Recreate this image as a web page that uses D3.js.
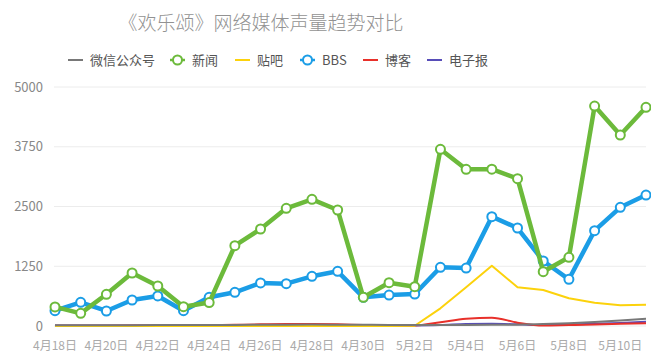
<!DOCTYPE html>
<html>
<head>
<meta charset="utf-8">
<script src="https://cdn.jsdelivr.net/npm/d3@7/dist/d3.min.js"></script>
<style>
  body { margin: 0; background: #fff; }
  text { font-family: "Noto Sans CJK SC", "Noto Sans", sans-serif; }
</style>
</head>
<body>
<div id="chart"></div>
<script>
const days = ["4月18日","4月19日","4月20日","4月21日","4月22日","4月23日","4月24日","4月25日",
  "4月26日","4月27日","4月28日","4月29日","4月30日","5月1日","5月2日","5月3日",
  "5月4日","5月5日","5月6日","5月7日","5月8日","5月9日","5月10日","5月11日"];
const yTicks = [0, 1250, 2500, 3750, 5000];

const weixin = [15,15,18,18,20,20,22,22,25,28,30,28,25,22,20,20,22,25,28,40,60,85,115,150];
const news = [400,265,663,1109,837,404,490,1680,2029,2462,2650,2427,600,906,822,3697,3278,3280,3083,1136,1437,4602,3996,4575];
const tieba = [0,0,0,0,0,0,0,0,0,0,0,0,0,0,5,370,810,1262,810,753,580,487,433,446];
const bbs = [320,495,314,544,628,320,600,705,900,885,1040,1144,600,648,669,1228,1213,2287,2050,1360,977,1994,2483,2740];
const blog = [5,5,5,8,8,10,15,25,35,40,40,35,20,10,10,80,150,175,70,10,20,30,45,60];
const dianzi = [10,10,10,10,10,10,10,12,12,12,12,12,12,12,12,20,40,45,35,20,30,45,65,90];

const series = [
  { name: "微信公众号", data: weixin, color: "#787878", width: 2, dots: false, smooth: true },
  { name: "新闻", data: news, color: "#6cba3b", width: 4.5, dots: true, smooth: false },
  { name: "贴吧", data: tieba, color: "#fcd20c", width: 2, dots: false, smooth: false },
  { name: "BBS", data: bbs, color: "#1b9de6", width: 4.5, dots: true, smooth: false },
  { name: "博客", data: blog, color: "#e8302a", width: 2, dots: false, smooth: true },
  { name: "电子报", data: dianzi, color: "#574db8", width: 2, dots: false, smooth: true }
];
const drawOrder = ["电子报", "博客", "贴吧", "BBS", "新闻", "微信公众号"];

const width = 651, height = 360;
const svg = d3.select("#chart").append("svg")
  .attr("width", width)
  .attr("height", height);

const x = d3.scalePoint().domain(days).range([55, 646]);
const y = d3.scaleLinear().domain([0, 5000]).range([326, 87]);

// title
svg.append("text")
  .attr("x", 261).attr("y", 30)
  .attr("text-anchor", "middle")
  .attr("fill", "#929292")
  .attr("font-weight", 300)
  .style("font-size", "19px")
  .text("《欢乐颂》网络媒体声量趋势对比");

// legend
const legendX = [68, 170, 235, 300, 363, 427];
const legend = svg.append("g").selectAll("g")
  .data(series)
  .enter().append("g")
  .attr("transform", (d, i) => "translate(" + legendX[i] + ",60)");
legend.append("line")
  .attr("x1", 0).attr("x2", 15)
  .attr("stroke", d => d.color)
  .attr("stroke-width", d => d.dots ? 2.5 : 2);
legend.filter(d => d.dots).append("circle")
  .attr("cx", 7.5).attr("r", 4.5)
  .attr("fill", "#fff")
  .attr("stroke", d => d.color)
  .attr("stroke-width", 2);
legend.append("text")
  .attr("x", 22)
  .attr("y", 4.5)
  .attr("fill", "#555")
  .style("font-size", "13px")
  .text(d => d.name);

// grid + y labels
svg.append("g").selectAll("line")
  .data(yTicks)
  .enter().append("line")
  .attr("x1", 54).attr("x2", 646)
  .attr("y1", d => y(d)).attr("y2", d => y(d))
  .attr("stroke", "#ececec");
svg.append("g").selectAll("text")
  .data(yTicks)
  .enter().append("text")
  .attr("x", 43).attr("y", d => y(d) + 4.5)
  .attr("text-anchor", "end")
  .attr("fill", "#888")
  .style("font-size", "13px")
  .text(d => d);

// x labels
svg.append("g").selectAll("text")
  .data(days.filter((d, i) => i % 2 === 0))
  .enter().append("text")
  .attr("x", d => x(d)).attr("y", 350)
  .attr("text-anchor", "middle")
  .attr("fill", "#aaa")
  .style("font-size", "12px")
  .text(d => d);

// lines
drawOrder.forEach(function (name) {
  const s = series.find(v => v.name === name);
  const line = d3.line()
    .x((d, i) => x(days[i]))
    .y(d => y(d))
    .curve(s.smooth ? d3.curveMonotoneX : d3.curveLinear);
  svg.append("path")
    .datum(s.data)
    .attr("fill", "none")
    .attr("stroke", s.color)
    .attr("stroke-width", s.width)
    .attr("stroke-linejoin", "round")
    .attr("d", line);
  if (s.dots) {
    svg.append("g").selectAll("circle")
      .data(s.data)
      .enter().append("circle")
      .attr("cx", (d, i) => x(days[i]))
      .attr("cy", d => y(d))
      .attr("r", 4.5)
      .attr("fill", "#fff")
      .attr("stroke", s.color)
      .attr("stroke-width", 2);
  }
});
</script>
</body>
</html>
